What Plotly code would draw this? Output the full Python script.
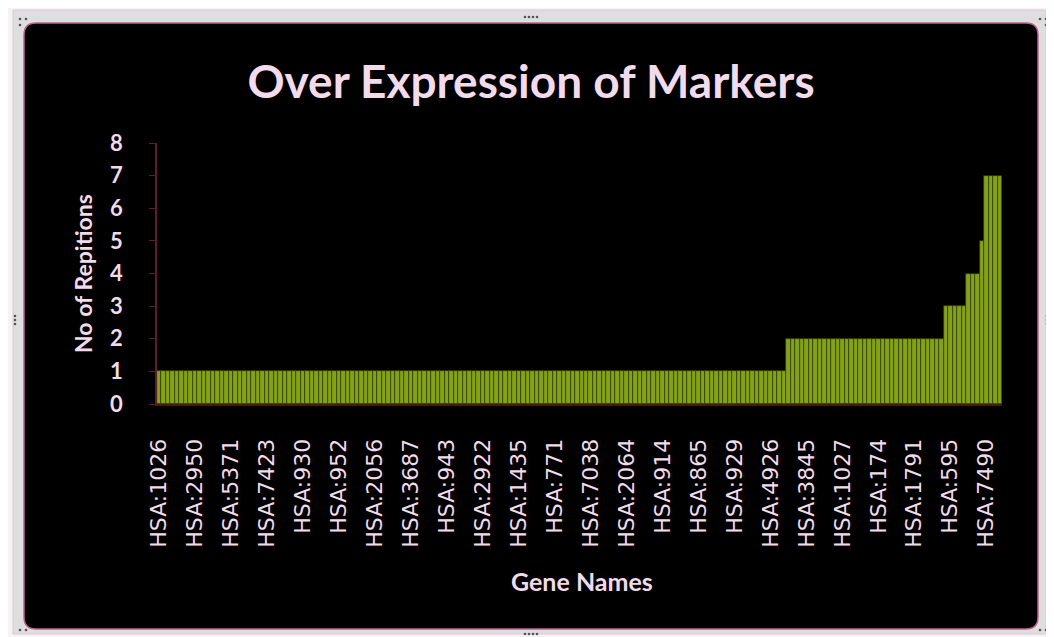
import plotly.graph_objects as go

# ---- data ----
values = [
    1, 1, 1, 1, 1, 1, 1, 1, 1, 1, 1, 1, 1, 1, 1, 1, 1, 1, 1, 1,
    1, 1, 1, 1, 1, 1, 1, 1, 1, 1, 1, 1, 1, 1, 1, 1, 1, 1, 1, 1,
    1, 1, 1, 1, 1, 1, 1, 1, 1, 1, 1, 1, 1, 1, 1, 1, 1, 1, 1, 1,
    1, 1, 1, 1, 1, 1, 1, 1, 1, 1, 1, 1, 1, 1, 1, 1, 1, 1, 1, 1,
    1, 1, 1, 1, 1, 1, 1, 1, 1, 1, 1, 1, 1, 1, 1, 1, 1, 1, 1, 1,
    1, 1, 1, 1, 1, 1, 1, 1, 1, 1, 1, 1, 1, 1, 1, 1, 1, 1, 1, 1,
    1, 1, 1, 1, 1, 1, 1, 1, 1, 1, 1, 1, 1, 1, 1, 1, 1, 1, 1, 1,
    2, 2, 2, 2, 2, 2, 2, 2, 2, 2, 2, 2, 2, 2, 2, 2, 2, 2, 2, 2,
    2, 2, 2, 2, 2, 2, 2, 2, 2, 2, 2, 2, 2, 2, 2,
    3, 3, 3, 3, 3,
    4, 4, 4,
    5,
    7, 7, 7, 7,
]
tick_labels = [
    "HSA:1026", "HSA:2950", "HSA:5371", "HSA:7423", "HSA:930", "HSA:952",
    "HSA:2056", "HSA:3687", "HSA:943", "HSA:2922", "HSA:1435", "HSA:771",
    "HSA:7038", "HSA:2064", "HSA:914", "HSA:865", "HSA:929", "HSA:4926",
    "HSA:3845", "HSA:1027", "HSA:174", "HSA:1791", "HSA:595", "HSA:7490",
]
label_every = 8
y_ticks = [0, 1, 2, 3, 4, 5, 6, 7, 8]

# ---- layout geometry (page pixels; the page body has an 8px margin) ----
OFF = 8
W, H = 1054 - OFF, 637 - OFF
L, R, T, B = 157 - OFF, 1002 - OFF, 143 - OFF, 404 - OFF


def px(x):
    return (x - OFF - L) / (R - L)


def py(y):
    return (B - (y - OFF)) / (B - T)


def rounded_rect(x0, y0, x1, y1, r):
    return (
        f"M {px(x0 + r)} {py(y0)} L {px(x1 - r)} {py(y0)} "
        f"Q {px(x1)} {py(y0)} {px(x1)} {py(y0 + r)} "
        f"L {px(x1)} {py(y1 - r)} Q {px(x1)} {py(y1)} {px(x1 - r)} {py(y1)} "
        f"L {px(x0 + r)} {py(y1)} Q {px(x0)} {py(y1)} {px(x0)} {py(y1 - r)} "
        f"L {px(x0)} {py(y0 + r)} Q {px(x0)} {py(y0)} {px(x0 + r)} {py(y0)} Z"
    )


x_idx = list(range(len(values)))
tick_vals = [i * label_every for i in range(len(tick_labels))]

text_col = "#f2dbeb"
axis_col = "#5e1a2e"

fig = go.Figure(
    go.Bar(
        x=x_idx,
        y=values,
        width=1,
        marker=dict(color="#84a118", line=dict(color="#2e3b06", width=0.7)),
    )
)

shapes = []
shapes.append(dict(type="rect", xref="paper", yref="paper",
                   x0=px(13), y0=py(10), x1=px(1046), y1=py(634),
                   line=dict(color="#e7c3d6", width=1), fillcolor="#dedede",
                   layer="below"))
shapes.append(dict(type="path", xref="paper", yref="paper",
                   path=rounded_rect(24, 23, 1038, 629, 12),
                   line=dict(color="#c2608f", width=1.5), fillcolor="#000000",
                   layer="below"))
handle_pts = [(20, 19), (26, 19), (20, 25), (525, 17), (529, 17), (533, 17), (537, 17),
              (1040, 19), (1046, 19), (1046, 25), (15, 316), (15, 320), (15, 324),
              (1047, 316), (1047, 320), (1047, 324), (20, 630), (26, 630),
              (1040, 630), (1046, 630), (525, 634), (529, 634), (533, 634), (537, 634)]
for (hx, hy) in handle_pts:
    shapes.append(dict(type="circle", xref="paper", yref="paper",
                       x0=px(hx - 1.3), x1=px(hx + 1.3), y0=py(hy - 1.3), y1=py(hy + 1.3),
                       fillcolor="#555555", line=dict(width=0), layer="above"))

fig.update_layout(
    width=W,
    height=H,
    margin=dict(l=L, r=W - R, t=T, b=H - B),
    paper_bgcolor="#f4f4f4",
    plot_bgcolor="#000000",
    bargap=0,
    showlegend=False,
    shapes=shapes,
    title=dict(
        text="Over Expression of Markers",
        x=(531 - OFF) / W, xanchor="center",
        y=1 - (82 - OFF) / H, yanchor="middle",
        font=dict(family="Lato", size=46, color=text_col, weight="bold"),
    ),
    xaxis=dict(
        range=[-0.5, len(values) - 0.5],
        tickmode="array",
        tickvals=tick_vals,
        ticktext=tick_labels,
        tickangle=-90,
        tickfont=dict(family="DejaVu Sans", size=22, color=text_col),
        ticks="",
        ticklabelstandoff=24,
        showgrid=False,
        zeroline=False,
        showline=True,
        linecolor="#4a1a10",
        linewidth=2,
        fixedrange=True,
    ),
    yaxis=dict(
        range=[0, 8],
        tickmode="array",
        tickvals=y_ticks,
        ticks="outside",
        ticklen=6,
        tickcolor=axis_col,
        tickfont=dict(family="Lato", size=22, color=text_col, weight="bold"),
        ticklabelstandoff=22,
        showgrid=False,
        zeroline=False,
        showline=True,
        linecolor=axis_col,
        linewidth=1.5,
        fixedrange=True,
    ),
    annotations=[
        dict(text="No of Repitions", xref="paper", yref="paper",
             x=px(83), y=py(274), textangle=-90, showarrow=False,
             xanchor="center", yanchor="middle",
             font=dict(family="Lato", size=23, color=text_col, weight="bold")),
        dict(text="Gene Names", xref="paper", yref="paper",
             x=px(582), y=py(581), showarrow=False,
             xanchor="center", yanchor="middle",
             font=dict(family="Lato", size=25, color=text_col, weight="bold")),
    ],
)

fig.write_html("out.html")
